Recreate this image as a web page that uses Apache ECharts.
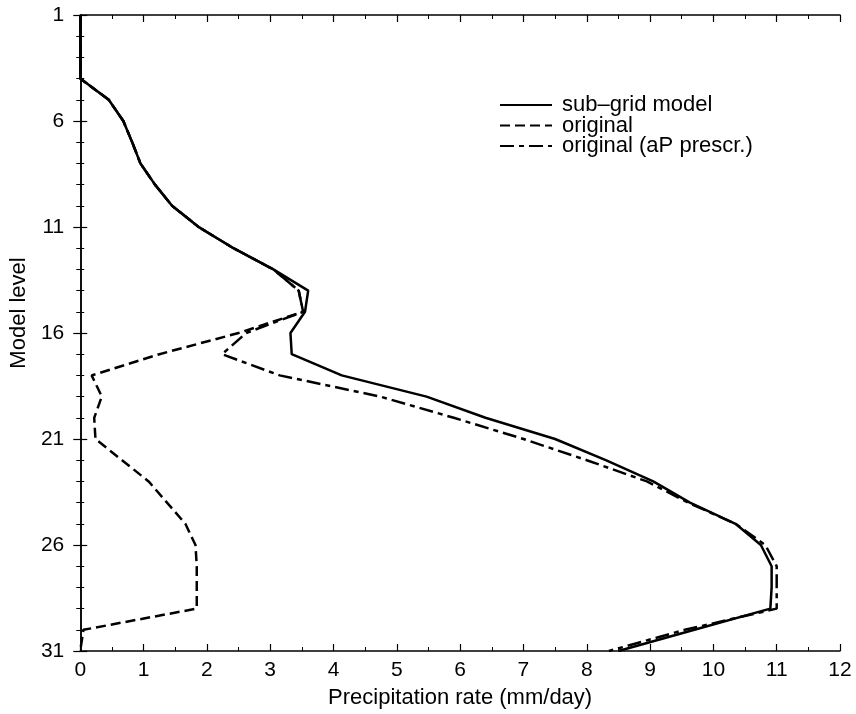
<!DOCTYPE html>
<html>
<head>
<meta charset="utf-8">
<script src="https://cdn.jsdelivr.net/npm/echarts@6/dist/echarts.min.js"></script>
<style>
  html, body { margin: 0; padding: 0; background: #fff; }
  #chart { width: 856px; height: 714px; }
</style>
</head>
<body>
<div id="chart"></div>
<script>
// model levels (1 = top of model, 31 = surface)
const levels = [1, 2, 3, 4, 5, 6, 7, 8, 9, 10, 11, 12, 13, 14, 15, 16,
  17, 18, 19, 20, 21, 22, 23, 24, 25, 26, 27, 28, 29, 30, 31]

// precipitation rate (mm/day) per level
const subGrid = [0, 0, 0, 0, 0.45, 0.68, 0.82, 0.95, 1.18, 1.45, 1.87, 2.42, 3.05, 3.6, 3.55, 3.32,
  3.34, 4.13, 5.47, 6.4, 7.5, 8.3, 9.05, 9.63, 10.35, 10.75, 10.92, 10.92, 10.9, 9.7, 8.5]
const original = [0, 0, 0, 0, 0.45, 0.68, 0.82, 0.95, 1.18, 1.45, 1.87, 2.42, 3.05, 3.45, 3.52, 2.5,
  1.25, 0.18, 0.34, 0.22, 0.24, 0.66, 1.08, 1.37, 1.66, 1.82, 1.84, 1.84, 1.84, 0.05, 0]
const aPPrescr = [0, 0, 0, 0, 0.45, 0.68, 0.82, 0.95, 1.18, 1.45, 1.87, 2.42, 3.05, 3.45, 3.52, 2.62,
  2.24, 3.15, 4.74, 5.9, 7.0, 8.0, 8.95, 9.6, 10.35, 10.82, 11.0, 11.0, 11.0, 9.55, 8.35]

const seriesNames = ['sub\u2013grid model', 'original', 'original (aP prescr.)']

const font = 'Liberation Sans, Arial, Helvetica, sans-serif'

function pairs(vals) {
  return levels.map((lv, i) => [vals[i], lv])
}

const axisLine = { show: true, lineStyle: { color: '#000', width: 1.5 } }
const axisTick = { show: true, inside: true, length: 7, lineStyle: { color: '#000', width: 1.2 } }
const minorTick = { show: true, length: 4, lineStyle: { color: '#000', width: 1 } }

const xBase = {
  type: 'value',
  min: 0,
  max: 12,
  interval: 1,
  splitLine: { show: false },
  axisLine: axisLine,
  axisTick: axisTick,
  minorTick: Object.assign({ splitNumber: 2 }, minorTick)
}
const yBase = {
  type: 'value',
  min: 1,
  max: 31,
  interval: 5,
  inverse: true,
  splitLine: { show: false },
  axisLine: axisLine,
  axisTick: axisTick,
  minorTick: Object.assign({ splitNumber: 5 }, minorTick)
}

const chart = echarts.init(document.getElementById('chart'))
chart.setOption({
  backgroundColor: '#fff',
  animation: false,
  textStyle: { fontFamily: font, color: '#000' },
  grid: { left: 80, right: 16, top: 15, bottom: 59 },
  legend: {
    orient: 'vertical',
    left: 494,
    top: 89,
    itemWidth: 52,
    itemHeight: 14,
    itemGap: -1.5,
    data: seriesNames,
    itemStyle: { opacity: 0 },
    textStyle: { fontFamily: font, fontSize: 22, color: '#000', lineHeight: 20, padding: [0, 0, 0, 5] }
  },
  xAxis: [
    Object.assign({}, xBase, {
      position: 'bottom',
      name: 'Precipitation rate (mm/day)',
      nameLocation: 'middle',
      nameGap: 36,
      nameTextStyle: { fontFamily: font, fontSize: 22, color: '#000' },
      axisLabel: { fontFamily: font, fontSize: 21, color: '#000', margin: 9 }
    }),
    Object.assign({}, xBase, {
      position: 'top',
      axisLabel: { show: false }
    })
  ],
  yAxis: [
    Object.assign({}, yBase, {
      position: 'left',
      name: 'Model level',
      nameLocation: 'middle',
      nameGap: 46,
      nameRotate: 90,
      nameTextStyle: { fontFamily: font, fontSize: 22, color: '#000', padding: [0, 0, 0, 40] },
      axisLabel: { fontFamily: font, fontSize: 21, color: '#000', margin: 16 }
    }),
    Object.assign({}, yBase, {
      position: 'right',
      axisLabel: { show: false }
    })
  ],
  series: [
    {
      name: seriesNames[0],
      type: 'line',
      data: pairs(subGrid),
      symbol: 'none',
      z: 3,
      itemStyle: { color: '#000' },
      lineStyle: { color: '#000', width: 2.5, type: 'solid' }
    },
    {
      name: seriesNames[1],
      type: 'line',
      data: pairs(original),
      symbol: 'none',
      z: 2,
      itemStyle: { color: '#000' },
      lineStyle: { color: '#000', width: 2.5, type: [10, 5] }
    },
    {
      name: seriesNames[2],
      type: 'line',
      data: pairs(aPPrescr),
      symbol: 'none',
      z: 2,
      itemStyle: { color: '#000' },
      lineStyle: { color: '#000', width: 2.5, type: [14, 5, 5, 5] }
    }
  ]
})
</script>
</body>
</html>
